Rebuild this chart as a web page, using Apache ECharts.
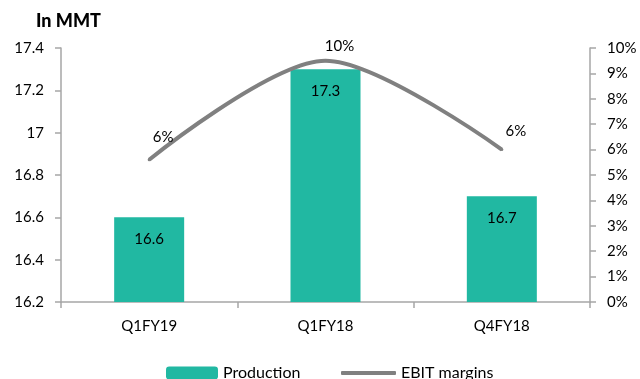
<!DOCTYPE html>
<html>
<head>
<meta charset="utf-8">
<script src="https://cdn.jsdelivr.net/npm/echarts@6/dist/echarts.min.js"></script>
<style>
  html, body { margin: 0; padding: 0; background: #fff; }
  #chart { width: 640px; height: 379px; }
</style>
</head>
<body>
<div id="chart"></div>
<script>
// Quarterly production (million metric tonnes) and EBIT margin (%)
const quarters = ['Q1FY19', 'Q1FY18', 'Q4FY18'];
const production = [16.6, 17.3, 16.7];
const ebitMargins = [5.6, 9.5, 6.0];

const FONT = 'Lato, "Open Sans", sans-serif';
const axisGray = '#a6a6a6';
const lineGray = '#808080';

// label gap above each margin point (keeps the first label clear of the rising curve)
const marginLabelGap = [14, 6, 9];

const chart = echarts.init(document.getElementById('chart'), null, { renderer: 'canvas' });

chart.setOption({
  animation: false,
  textStyle: { fontFamily: FONT },
  title: {
    text: 'In MMT',
    left: 31,
    top: 7,
    textStyle: { fontFamily: FONT, fontSize: 18, fontWeight: 900, color: '#000' }
  },
  legend: [
    {
      data: ['Production'],
      left: 166,
      top: 365,
      padding: 0,
      itemWidth: 52,
      itemHeight: 13,
      textStyle: { fontFamily: FONT, fontSize: 16, color: '#000' }
    },
    {
      data: [{ name: 'EBIT margins', icon: 'roundRect' }],
      left: 341,
      top: 365,
      padding: 0,
      itemWidth: 55,
      itemHeight: 4,
      textStyle: { fontFamily: FONT, fontSize: 16, color: '#000' }
    }
  ],
  grid: { left: 61, right: 50, top: 48, bottom: 77 },
  xAxis: {
    type: 'category',
    data: quarters,
    axisLine: { lineStyle: { color: axisGray, width: 1.5 } },
    axisTick: { show: true, length: 6, lineStyle: { color: axisGray, width: 1.5 } },
    axisLabel: { color: '#000', fontSize: 15, margin: 17, fontFamily: FONT }
  },
  yAxis: [
    {
      type: 'value',
      min: 16.2,
      max: 17.4,
      interval: 0.2,
      position: 'left',
      splitLine: { show: false },
      axisLine: { show: true, lineStyle: { color: axisGray, width: 1.5 } },
      axisTick: { show: true, length: 6, lineStyle: { color: axisGray, width: 1.5 } },
      axisLabel: { color: '#000', fontSize: 15, margin: 17, fontFamily: FONT }
    },
    {
      type: 'value',
      min: 0,
      max: 10,
      interval: 1,
      position: 'right',
      splitLine: { show: false },
      axisLine: { show: true, lineStyle: { color: axisGray, width: 1.5 } },
      axisTick: { show: true, length: 6, lineStyle: { color: axisGray, width: 1.5 } },
      axisLabel: { color: '#000', fontSize: 15, margin: 17, fontFamily: FONT, formatter: '{value}%' }
    }
  ],
  series: [
    {
      name: 'Production',
      type: 'bar',
      data: production,
      yAxisIndex: 0,
      barWidth: 70,
      itemStyle: { color: '#21b8a2' },
      label: {
        show: true,
        position: 'insideTop',
        distance: 14,
        color: '#000',
        fontSize: 15,
        fontFamily: FONT
      }
    },
    {
      name: 'EBIT margins',
      type: 'line',
      data: ebitMargins.map((v, i) => ({ value: v, label: { distance: marginLabelGap[i] } })),
      yAxisIndex: 1,
      smooth: 0.3,
      symbol: 'circle',
      symbolSize: 3,
      showSymbol: true,
      lineStyle: { color: lineGray, width: 4 },
      itemStyle: { color: lineGray },
      label: {
        show: true,
        position: 'top',
        offset: [14, 0],
        color: '#000',
        fontSize: 15,
        fontFamily: FONT,
        formatter: p => Math.round(p.value) + '%'
      }
    }
  ]
});
</script>
</body>
</html>
